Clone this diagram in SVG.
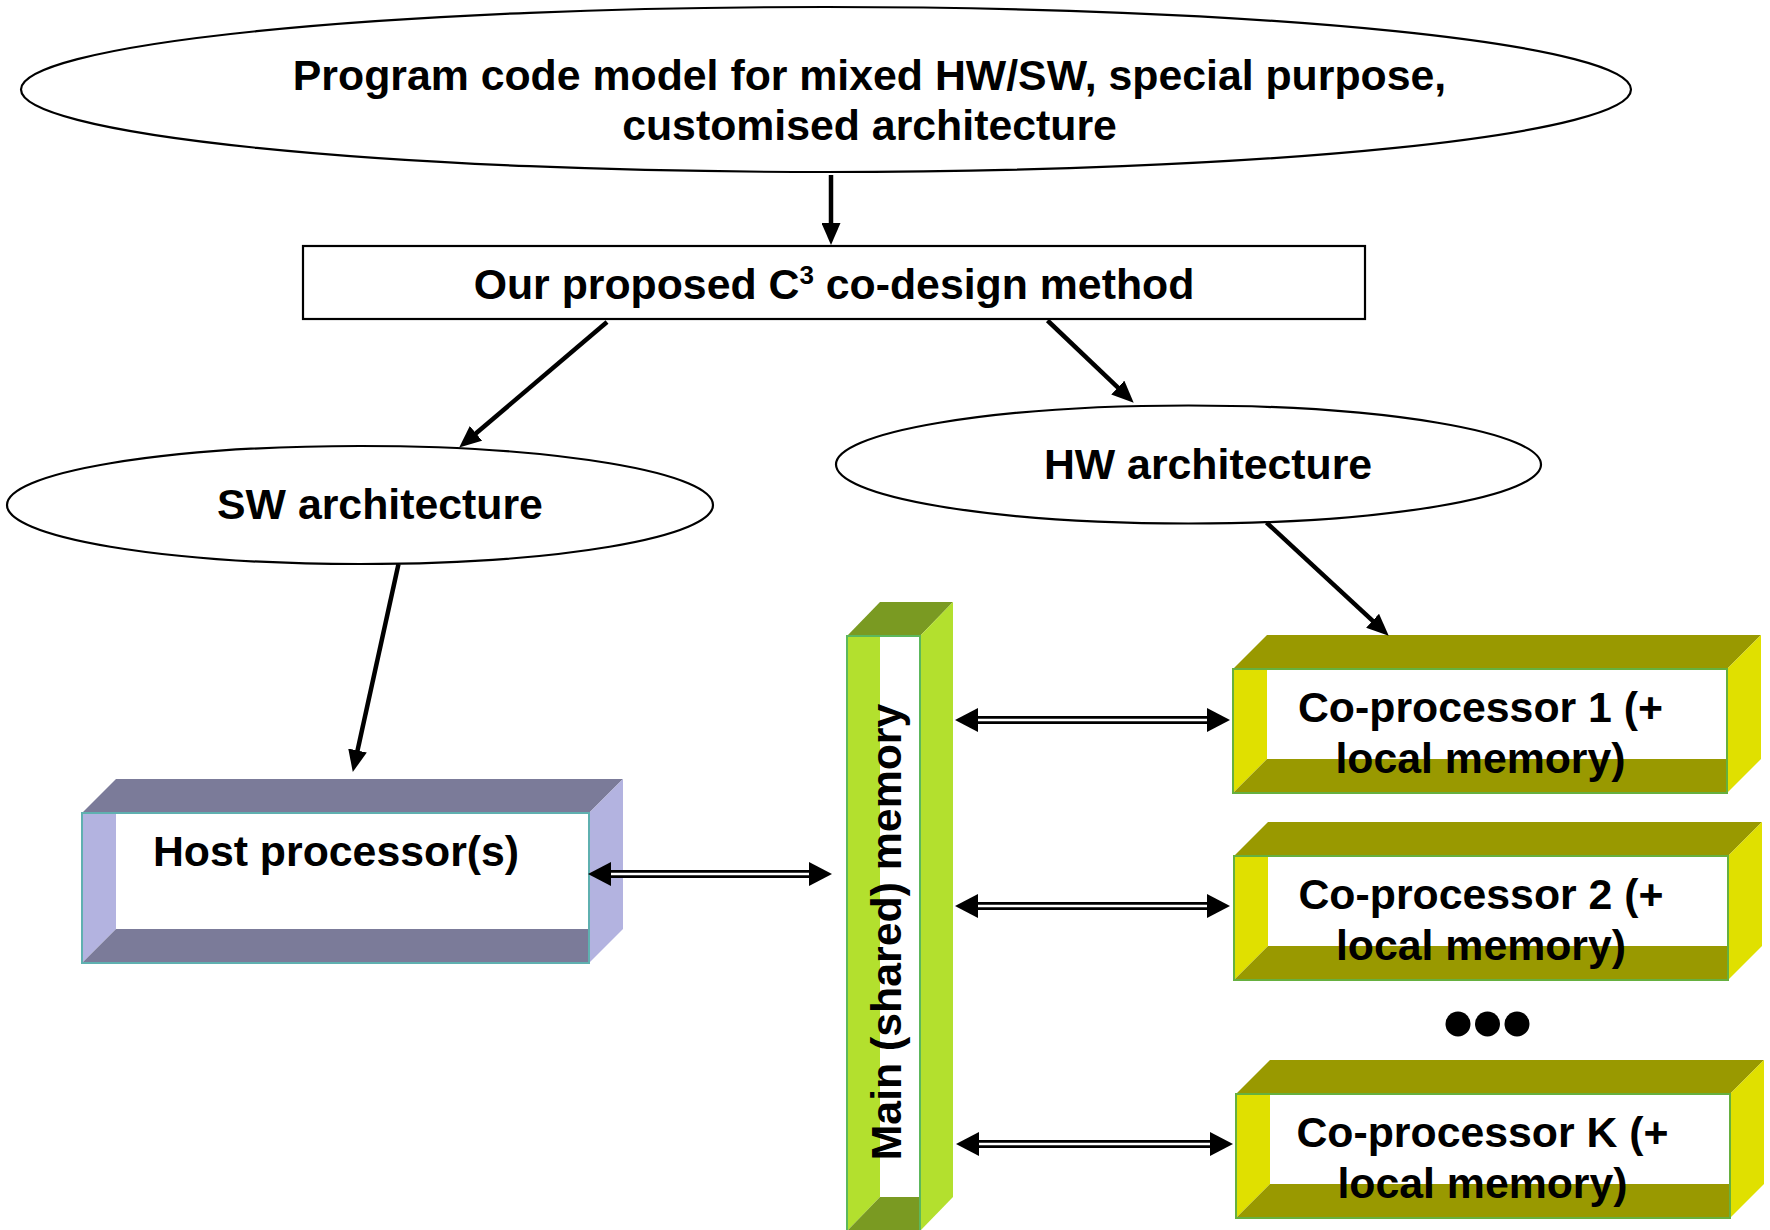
<svg xmlns="http://www.w3.org/2000/svg" xmlns:xlink="http://www.w3.org/1999/xlink" width="1770" height="1230" viewBox="0 0 1770 1230">
<style>
.t{font-family:"Liberation Sans",Arial,sans-serif;font-weight:bold;font-size:42.8px;fill:#000;text-anchor:middle}
.ol{fill:#fff;stroke:#000;stroke-width:2.2}
.ar{stroke:#000;stroke-width:4.5;fill:none;marker-end:url(#ah)}
.da{stroke:#000;stroke-width:8;fill:none;marker-start:url(#dh);marker-end:url(#dh)}
.dw{stroke:#fff;stroke-width:2.5;fill:none}
.hd{fill:#7b7b99}.hl{fill:#b3b3e0}
.md{fill:#7a9a22}.ml{fill:#b3e02e}
.cd{fill:#999900}.cl{fill:#e0e000}
.w{fill:#fff}
</style>
<defs>
<marker id="ah" markerUnits="userSpaceOnUse" markerWidth="23" markerHeight="19" refX="1" refY="9.5" orient="auto" viewBox="0 0 23 19"><path d="M0,0 L22,9.5 L0,19 z" fill="#000"/></marker>
<marker id="dh" markerUnits="userSpaceOnUse" markerWidth="24" markerHeight="24" refX="1" refY="12" orient="auto-start-reverse" viewBox="0 0 24 24"><path d="M0,0 L23,12 L0,24 z" fill="#000"/></marker>
<g id="cobox">
<rect class="w" x="34" y="0" width="460" height="90"/>
<polygon class="cd" points="0,0 34,-34 528,-34 494,0"/>
<polygon class="cl" points="494,0 528,-34 528,90 494,124"/>
<polygon class="cl" points="0,0 34,0 34,90 0,124"/>
<polygon class="cd" points="0,124 34,90 494,90 494,124"/>
<rect x="0" y="0" width="494" height="124" fill="none" stroke="#66b03f" stroke-width="2"/>
</g>
</defs>
<rect width="1770" height="1230" fill="#fff"/>

<g id="program-model">
<ellipse class="ol" cx="826" cy="89.5" rx="805" ry="82.5"/>
<text class="t" x="869.5" y="90">Program code model for mixed HW/SW, special purpose,</text>
<text class="t" x="869.5" y="140">customised architecture</text>
</g>

<g id="codesign">
<rect class="ol" x="303" y="246" width="1062" height="73"/>
<text class="t" x="834" y="299">Our proposed C<tspan font-size="26" dy="-15">3</tspan><tspan dy="15"> co-design method</tspan></text>
</g>

<g id="sw-arch">
<ellipse class="ol" cx="360" cy="505" rx="353" ry="59"/>
<text class="t" x="380" y="519">SW architecture</text>
</g>

<g id="hw-arch">
<ellipse class="ol" cx="1188.5" cy="464.5" rx="352.5" ry="59"/>
<text class="t" x="1208" y="479">HW architecture</text>
</g>

<g id="host">
<rect class="w" x="116" y="813" width="473" height="116"/>
<polygon class="hd" points="82,813 116,779 623,779 589,813"/>
<polygon class="hl" points="589,813 623,779 623,929 589,963"/>
<polygon class="hl" points="82,813 116,813 116,929 82,963"/>
<polygon class="hd" points="82,963 116,929 589,929 589,963"/>
<rect x="82" y="813" width="507" height="150" fill="none" stroke="#5fb0b0" stroke-width="2"/>
<text class="t" x="336" y="866">Host processor(s)</text>
</g>

<g id="main-memory">
<rect class="w" x="880" y="636" width="40" height="561"/>
<polygon class="md" points="847,636 880,602 953,602 920,636"/>
<polygon class="ml" points="920,636 953,602 953,1197 920,1231"/>
<polygon class="ml" points="847,636 880,636 880,1197 847,1231"/>
<polygon class="md" points="847,1231 880,1197 920,1197 920,1231"/>
<rect x="847" y="636" width="73" height="600" fill="none" stroke="#5cb85c" stroke-width="2"/>
<text class="t" transform="translate(901,932) rotate(-90)" x="0" y="0">Main (shared) memory</text>
</g>

<g id="coproc-1" transform="translate(1233,669)">
<use xlink:href="#cobox"/>
<text class="t" x="247.5" y="53">Co-processor 1 (+</text>
<text class="t" x="247.5" y="104">local memory)</text>
</g>

<g id="coproc-2" transform="translate(1234,856)">
<use xlink:href="#cobox"/>
<text class="t" x="247" y="52.5">Co-processor 2 (+</text>
<text class="t" x="247" y="103.5">local memory)</text>
</g>

<g id="ellipsis">
<circle cx="1458" cy="1024" r="12.5"/>
<circle cx="1487.5" cy="1024" r="12.5"/>
<circle cx="1517" cy="1024" r="12.5"/>
</g>

<g id="coproc-k" transform="translate(1236,1094)">
<use xlink:href="#cobox"/>
<text class="t" x="246.5" y="52.5">Co-processor K (+</text>
<text class="t" x="246.5" y="103.5">local memory)</text>
</g>

<g id="connectors">
<line class="ar" x1="831" y1="175" x2="831" y2="224"/>
<line class="ar" x1="607" y1="322" x2="475.2" y2="434"/>
<line class="ar" x1="1047.5" y1="320.5" x2="1118.5" y2="388.2"/>
<line class="ar" x1="398.5" y1="564" x2="357.3" y2="751.5"/>
<line class="ar" x1="1266.5" y1="522.5" x2="1373.3" y2="621.4"/>
<line class="da" x1="610" y1="874" x2="810" y2="874"/>
<line class="dw" x1="611" y1="874" x2="809" y2="874"/>
<line class="da" x1="977" y1="720" x2="1208" y2="720"/>
<line class="dw" x1="978" y1="720" x2="1207" y2="720"/>
<line class="da" x1="977" y1="906" x2="1208" y2="906"/>
<line class="dw" x1="978" y1="906" x2="1207" y2="906"/>
<line class="da" x1="978" y1="1144" x2="1211" y2="1144"/>
<line class="dw" x1="979" y1="1144" x2="1210" y2="1144"/>
</g>
</svg>
